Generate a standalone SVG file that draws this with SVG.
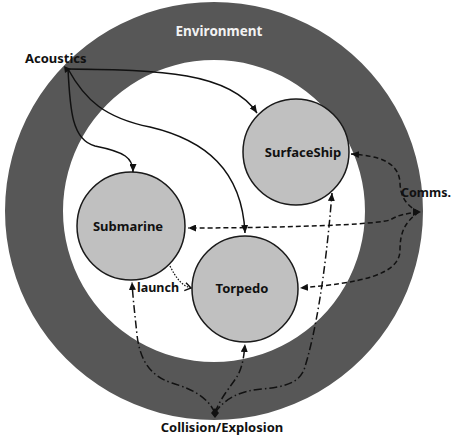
<svg xmlns="http://www.w3.org/2000/svg" width="453" height="438" viewBox="0 0 453 438">
  <style>
    .lbl { font-family: "Noto Sans", "Open Sans", sans-serif; font-weight: bold; font-size: 13px; fill: #111; }
    .node { fill: #c0c0c0; stroke: #1a1a1a; stroke-width: 1.5; }
    .solid { fill: none; stroke: #111; stroke-width: 1.5; marker-end: url(#arr); }
    .dash { fill: none; stroke: #111; stroke-width: 1.5; stroke-dasharray: 5 3; marker-end: url(#arr); }
    .dashdot { fill: none; stroke: #111; stroke-width: 1.5; stroke-dasharray: 8 3 1.5 3; marker-end: url(#arr); }
    .dot { fill: none; stroke: #111; stroke-width: 1.2; stroke-dasharray: 1.5 1.5; marker-end: url(#chev); }
  </style>
  <defs>
    <marker id="arr" viewBox="0 0 8 7" refX="8" refY="3.5" markerWidth="8" markerHeight="7" markerUnits="userSpaceOnUse" orient="auto">
      <path d="M0,0 L8,3.5 L0,7 z" fill="#111"/>
    </marker>
    <marker id="chev" viewBox="0 0 8 10" refX="7" refY="5" markerWidth="8" markerHeight="10" markerUnits="userSpaceOnUse" orient="auto">
      <path d="M1,1 L7,5 L1,9" fill="none" stroke="#111" stroke-width="1.4"/>
    </marker>
  </defs>

  <rect width="453" height="438" fill="#fff"/>

  <!-- environment ring -->
  <g id="environment">
    <path d="M214,2 a209,209 0 1,0 0.01,0 z M214,60 a151,151 0 1,1 -0.01,0 z" fill="#575757" fill-rule="evenodd"/>
    <text x="219" y="36" text-anchor="middle" class="lbl" style="fill:#f2f2f2;font-size:13.5px">Environment</text>
  </g>

  <g id="surfaceship">
    <circle class="node" cx="296" cy="152" r="53"/>
    <text x="303" y="157" text-anchor="middle" class="lbl">SurfaceShip</text>
  </g>
  <g id="submarine">
    <circle class="node" cx="131" cy="226" r="54"/>
    <text x="128" y="231" text-anchor="middle" class="lbl">Submarine</text>
  </g>
  <g id="torpedo">
    <circle class="node" cx="245" cy="289" r="53"/>
    <text x="242" y="293" text-anchor="middle" class="lbl">Torpedo</text>
  </g>

  <g id="acoustics">
    <text x="25" y="63" class="lbl">Acoustics</text>
  </g>
  <g id="comms">
    <text x="451" y="197" text-anchor="end" class="lbl" style="font-size:12.5px">Comms.</text>
  </g>
  <g id="collision">
    <text x="222" y="432" text-anchor="middle" class="lbl">Collision/Explosion</text>
  </g>

  <g id="connectors">
    <!-- acoustics -->
    <path class="solid" d="M68,69 C160,70 230,72 257,113"/>
    <path class="solid" d="M68,69 C85,100 105,118 150,127 C205,140 242,170 245,233"/>
    <path class="solid" d="M68,69 C70,110 72,140 95,146 C125,152 133,158 133,172"/>
    <path d="M64,66 L71,69 L65,73 z" fill="#111"/>

    <!-- comms -->
    <path class="dash" d="M419,212 C405,205 400,195 400,182 C398,162 380,156 351,154"/>
    <path class="dash" d="M419,212 C405,214 400,214 390,220 C370,226 250,228 188,228"/>
    <path class="dash" d="M419,212 C405,222 400,232 400,250 C400,275 360,283 300,288"/>
    <path d="M413,208 L421,212 L413,216 z" fill="#111"/>

    <!-- collision / explosion -->
    <path class="dashdot" d="M215,413 C208,398 195,390 172,383 C150,376 140,360 137,335 C135,315 133,300 132,282"/>
    <path class="dashdot" d="M215,413 C220,398 232,385 238,375 C243,365 244,355 245,344"/>
    <path class="dashdot" d="M215,413 C225,398 240,391 262,389 C285,387 298,383 304,370 C315,335 325,280 332,193"/>
    <path d="M215,408 L219,413 L215,418 L211,413 z" fill="#111"/>

    <!-- launch -->
    <path class="dot" d="M170,266 C176,278 182,286 191,288"/>
    <text x="137" y="292" class="lbl" style="font-size:12.5px">launch</text>
  </g>
</svg>
